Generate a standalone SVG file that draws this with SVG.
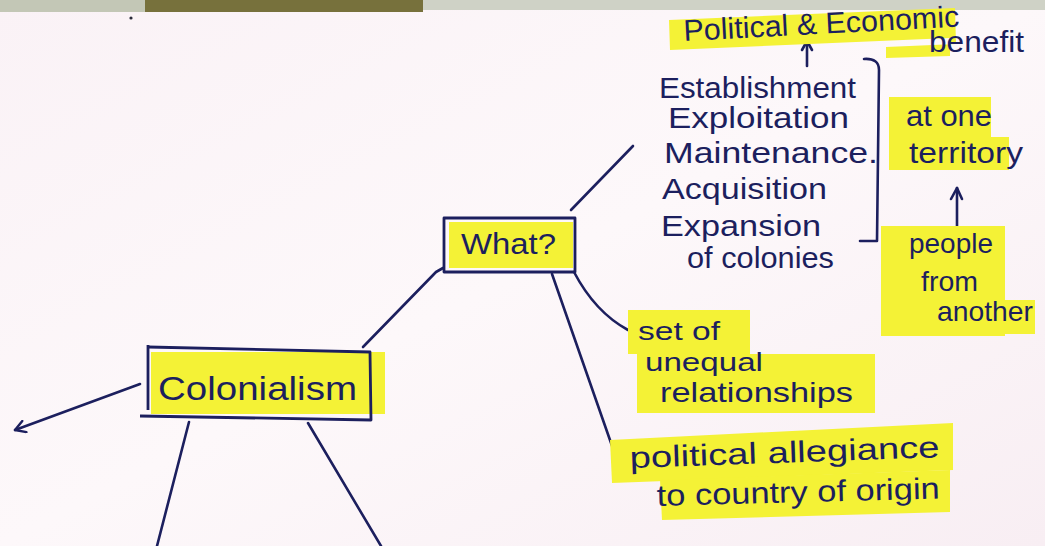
<svg xmlns="http://www.w3.org/2000/svg" width="1045" height="546" viewBox="0 0 1045 546">
  <defs>
    <style>
      .ink { fill: #1c1f5e; font-family: "Liberation Sans", "DejaVu Sans", sans-serif; }
      .t30 { font-size: 30px; }
      .t28 { font-size: 28px; }
      .t26 { font-size: 26px; }
      .hl { fill: #f4f236; }
      .line { fill: none; stroke: #1c1f5e; stroke-width: 2.6; stroke-linecap: round; stroke-linejoin: round; }
      .box { fill: none; stroke: #1c1f5e; stroke-width: 2.8; stroke-linejoin: round; }
    </style>
    <linearGradient id="paper" x1="0" y1="0" x2="1" y2="1">
      <stop offset="0" stop-color="#faf2f6"/>
      <stop offset="0.5" stop-color="#fdf8fa"/>
      <stop offset="1" stop-color="#f8eef3"/>
    </linearGradient>
    <marker id="openArrow" viewBox="0 0 14 14" refX="12" refY="7" markerWidth="14" markerHeight="14" markerUnits="userSpaceOnUse" orient="auto">
      <path d="M2,1 L12,7 L2,13" fill="none" stroke="#1c1f5e" stroke-width="2.4" stroke-linecap="round" stroke-linejoin="round"/>
    </marker>
  </defs>

  <!-- paper and photo edge -->
  <rect x="0" y="0" width="1045" height="546" fill="url(#paper)"/>
  <rect x="0" y="0" width="145" height="12" fill="#c3c7b6"/>
  <rect x="145" y="0" width="278" height="12" fill="#77713c"/>
  <rect x="423" y="0" width="622" height="10" fill="#cfd2c6"/>
  <circle cx="131" cy="18" r="1.6" fill="#2a2a3a"/>

  <!-- connectors -->
  <g id="connectors">
    <path class="line" d="M140,384 L15,430" marker-end="url(#openArrow)"/>
    <path class="line" d="M189,422 L157,546"/>
    <path class="line" d="M308,423 L381,546"/>
    <path class="line" d="M363,347 L436,272 L443,268"/>
    <path class="line" d="M571,210 L633,146"/>
    <path class="line" d="M574,272 Q595,312 628,330"/>
    <path class="line" d="M552,274 L618,463"/>
    <path class="line" d="M807,66 L807,41"/>
    <path class="line" d="M807,41 L802,50 M807,41 L812,50"/>
    <path class="line" d="M957,230 L957,188"/>
    <path class="line" d="M957,188 L951,199 M957,188 L962,199"/>
    <path class="line" d="M864,59 Q879,58 879,70 L877,241 L860,241"/>
  </g>

  <!-- Colonialism -->
  <g id="node-colonialism">
    <rect class="hl" x="151" y="352" width="234" height="62"/>
    <path class="box" d="M148,347 L370,352 L371,420 L140,416"/>
    <path class="box" d="M148,345 L148,410"/>
    <text class="ink" x="158" y="400" font-size="34" textLength="199" lengthAdjust="spacingAndGlyphs">Colonialism</text>
  </g>

  <!-- What? -->
  <g id="node-what">
    <rect class="hl" x="449" y="222" width="124" height="46"/>
    <rect class="box" x="444" y="218" width="131" height="54"/>
    <text class="ink t30" x="461" y="254" textLength="95" lengthAdjust="spacingAndGlyphs">What?</text>
  </g>

  <!-- Political & Economic benefit -->
  <g id="node-benefit">
    <path class="hl" d="M669,20 L955,8 L956,44 L886,47 L886,58 L950,56 L950,38 L670,50 Z"/>
    <text class="ink t30" x="684" y="41" textLength="276" lengthAdjust="spacingAndGlyphs" transform="rotate(-3 684 41)">Political &amp; Economic</text>
    <text class="ink t30" x="929" y="52" textLength="95" lengthAdjust="spacingAndGlyphs">benefit</text>
  </g>

  <!-- list of activities -->
  <g id="node-activities">
    <text class="ink t30" x="659" y="98" textLength="197" lengthAdjust="spacingAndGlyphs">Establishment</text>
    <text class="ink t30" x="668" y="128" textLength="181" lengthAdjust="spacingAndGlyphs">Exploitation</text>
    <text class="ink t30" x="664" y="163" textLength="214" lengthAdjust="spacingAndGlyphs">Maintenance.</text>
    <text class="ink t30" x="662" y="199" textLength="165" lengthAdjust="spacingAndGlyphs">Acquisition</text>
    <text class="ink t30" x="661" y="236" textLength="160" lengthAdjust="spacingAndGlyphs">Expansion</text>
    <text class="ink t30" x="687" y="268" textLength="147" lengthAdjust="spacingAndGlyphs">of colonies</text>
  </g>

  <!-- at one territory -->
  <g id="node-territory">
    <rect class="hl" x="889" y="97" width="102" height="40"/>
    <rect class="hl" x="889" y="137" width="120" height="33"/>
    <text class="ink t30" x="906" y="126" textLength="86" lengthAdjust="spacingAndGlyphs">at one</text>
    <text class="ink t30" x="909" y="163" textLength="114" lengthAdjust="spacingAndGlyphs">territory</text>
  </g>

  <!-- people from another -->
  <g id="node-people">
    <rect class="hl" x="881" y="226" width="124" height="110"/>
    <rect class="hl" x="1000" y="300" width="35" height="34"/>
    <text class="ink t28" x="909" y="253" textLength="84" lengthAdjust="spacingAndGlyphs">people</text>
    <text class="ink t28" x="921" y="291" textLength="57" lengthAdjust="spacingAndGlyphs">from</text>
    <text class="ink t28" x="937" y="321" textLength="96" lengthAdjust="spacingAndGlyphs">another</text>
  </g>

  <!-- set of unequal relationships -->
  <g id="node-unequal">
    <rect class="hl" x="628" y="310" width="122" height="44"/>
    <rect class="hl" x="637" y="354" width="238" height="59"/>
    <text class="ink t26" x="638" y="340" textLength="82" lengthAdjust="spacingAndGlyphs">set of</text>
    <text class="ink t26" x="645" y="371" textLength="118" lengthAdjust="spacingAndGlyphs">unequal</text>
    <text class="ink t28" x="660" y="402" textLength="193" lengthAdjust="spacingAndGlyphs">relationships</text>
  </g>

  <!-- political allegiance to country of origin -->
  <g id="node-allegiance">
    <path class="hl" d="M610,440 L953,423 L953,470 L612,483 Z"/>
    <path class="hl" d="M660,480 L950,470 L950,512 L662,520 Z"/>
    <text class="ink t30" x="630" y="468" textLength="310" lengthAdjust="spacingAndGlyphs" transform="rotate(-2 630 468)">political allegiance</text>
    <text class="ink t30" x="657" y="506" textLength="283" lengthAdjust="spacingAndGlyphs" transform="rotate(-1.5 657 506)">to country of origin</text>
  </g>
</svg>
